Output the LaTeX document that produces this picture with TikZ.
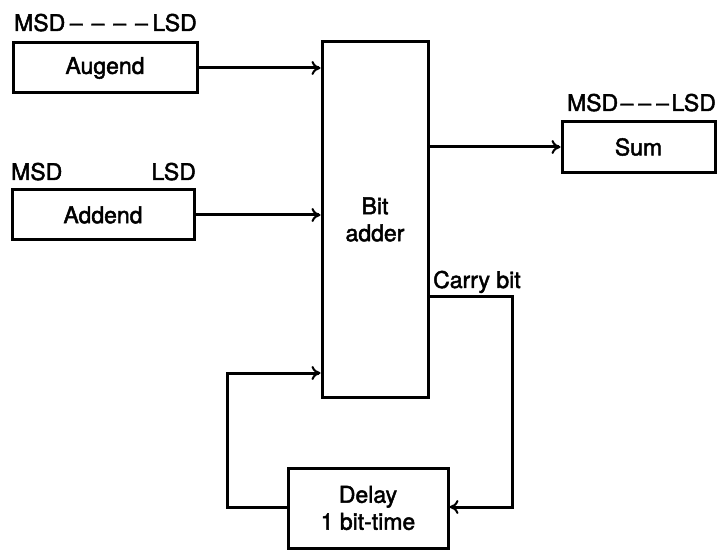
\documentclass[tikz,border=0pt]{standalone}
\usepackage{fontspec}
\setmainfont{TeX Gyre Heros}[FakeBold=2]
\usetikzlibrary{arrows.meta}
\newcommand{\dd}{\hspace{4.5pt}–\hspace{4.5pt}}
\newcommand{\ds}{\hspace{2.5pt}–\hspace{2.5pt}}
\begin{document}
\begin{tikzpicture}[x=1pt,y=-1pt,
  blk/.style={draw, line width=3pt, minimum width=0pt, inner sep=0pt, align=center},
  lbl/.style={inner sep=0pt, anchor=base west},
  conn/.style={line width=3pt, -{To[length=9pt,width=14pt,line width=2pt]}},
  every node/.style={font=\fontsize{23}{27}\selectfont}]
\useasboundingbox (0,0) rectangle (720,553);
% boxes
\node[blk, minimum width=184pt, minimum height=50pt] (aug) at (105,68) {Augend};
\node[blk, minimum width=182pt, minimum height=50pt] (add) at (103,215) {Addend};
\node[blk, minimum width=106pt, minimum height=355pt] (bit) at (375,219.5) {Bit\\adder};
\node[blk, minimum width=153pt, minimum height=51pt] (sum) at (638.5,147) {Sum};
\node[blk, minimum width=160pt, minimum height=80pt] (dly) at (368,508) {Delay\\1 bit-time};
% labels
\node[lbl] (augl) at (14,31) {MSD\dd\dd\dd\dd LSD};
\node[lbl] (addm) at (11,180) {MSD};
\node[lbl, anchor=base east] (addl) at (196,180) {LSD};
\node[lbl, anchor=base east] (suml) at (716,111) {MSD\ds\ds\ds LSD};
\node[lbl] (carry) at (433,288) {Carry bit};
% connectors
\draw[conn] (aug.east) -- (aug.east -| bit.west);
\draw[conn] (add.east) -- (add.east -| bit.west);
\coordinate (so) at (bit.east |- sum.west);
\draw[conn] (so) -- (sum.west);
\coordinate (co) at (428,297);
\coordinate (c1) at (512,297);
\coordinate (c2) at (512,507);
\draw[conn] (co) -- (c1) -- (c2) -- (c2 -| dly.east);
\coordinate (f1) at (227,507);
\coordinate (f2) at (227,373);
\draw[conn] (f1 -| dly.west) -- (f1) -- (f2) -- (f2 -| bit.west);
\end{tikzpicture}
\end{document}
